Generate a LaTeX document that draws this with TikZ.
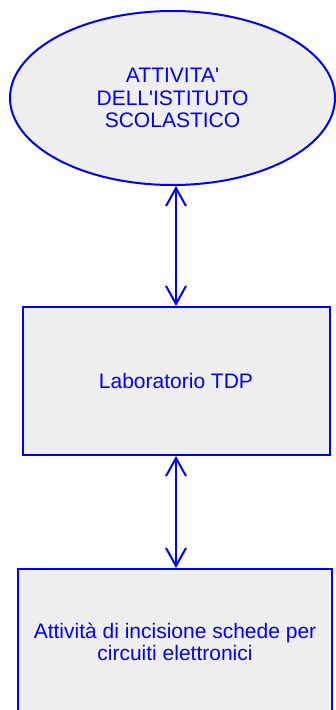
\documentclass[tikz,border=0pt]{standalone}
\usepackage{fontspec}
\setmainfont[Ligatures=TeXOff]{Liberation Sans}
\usetikzlibrary{shapes.geometric,arrows.meta}
\definecolor{dblue}{HTML}{0000FF}
\definecolor{boxgray}{HTML}{EFEFEF}
\tikzset{
  lbl/.style={text=dblue, font=\fontsize{21pt}{22.7pt}\selectfont, align=center},
  ell/.style={ellipse, draw=dblue, fill=boxgray, line width=2pt, inner sep=0pt, minimum width=325pt, minimum height=174pt, lbl},
  boxnode/.style={rectangle, draw=dblue, fill=boxgray, line width=2pt, inner sep=0pt, lbl},
  arr/.style={draw=dblue, line width=2pt, {Straight Barb[length=18pt,width=20pt]}-{Straight Barb[length=18pt,width=20pt]}}
}
\begin{document}
\begin{tikzpicture}[x=1pt,y=1pt]
\useasboundingbox (0,0) rectangle (335,-710);
\node[ell] (e) at (172.5,-98) {ATTIVITA'\\DELL'ISTITUTO\\SCOLASTICO};
\node[boxnode, minimum width=307pt, minimum height=148pt] (b1) at (176,-381) {Laboratorio TDP};
\node[boxnode, minimum width=314pt, minimum height=146pt] (b2) at (175,-642) {Attività di incisione schede per\\circuiti elettronici};
\draw[arr] (b1.north |- e.south) -- (b1.north);
\draw[arr] (b1.south) -- (b1.south |- b2.north);
\end{tikzpicture}
\end{document}
